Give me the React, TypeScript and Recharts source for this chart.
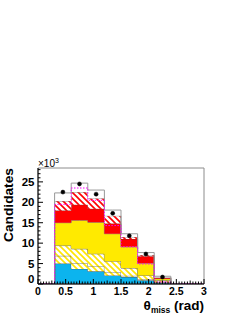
import {
  Area,
  ComposedChart,
  Line,
  ReferenceArea,
  XAxis,
  YAxis,
} from "recharts";

// bin left edges (rad) and centres
const binEdges = [0.3, 0.6, 0.9, 1.2, 1.5, 1.8, 2.1];
const binCentres = [0.45, 0.75, 1.05, 1.35, 1.65, 1.95, 2.25];
const histEnd = 2.4;

// stacked MC components, in units of 10^3 candidates (bottom to top)
const cyanBkg = [5.0, 3.7, 3.1, 2.1, 1.7, 0.9, 0.3];
const hatchYellowA = [1.9, 1.4, 1.2, 0.8, 0.3, 0.2, 0.2];
const hatchYellowB = [2.5, 3.5, 3.1, 2.7, 1.9, 1.0, 0.4];
const yellowBkg = [5.6, 7.0, 7.7, 6.7, 5.2, 3.0, 0.4];
const redBkg = [3.0, 3.8, 3.3, 2.5, 1.9, 1.7, 0.2];
const hatchRed = [2.3, 3.1, 2.6, 1.9, 0.5, 0.3, 0.1];
const whiteTop = [2.0, 2.2, 2.0, 1.4, 0.8, 0.6, 0.3];

// magenta dotted overlay and data points
const magentaShape = [19.5, 23.5, 20.5, 14.3, 9.1, 4.9, 0.5];
const dataPoints = [22.5, 24.5, 22.0, 17.3, 11.8, 7.35, 1.7];

// axis ticks
const xMajorTicks = [0, 0.5, 1, 1.5, 2, 2.5, 3];
const xTickLabels = ["0", "0.5", "1", "1.5", "2", "2.5", "3"];
const yMajorTicks = [0, 5, 10, 15, 20, 25];
const yTickLabels = ["0", "5", "10", "15", "20", "25"];

const xMinorTicks: number[] = [];
for (let i = 0; i <= 60; i++) xMinorTicks.push(Math.round(i * 5) / 100);
const yMinorTicks: number[] = [];
for (let i = 0; i <= 28; i++) yMinorTicks.push(i);

const layerKeys = ["cyan", "hyA", "hyB", "yel", "red", "hr", "wh"];
const layers = [cyanBkg, hatchYellowA, hatchYellowB, yellowBkg, redBkg, hatchRed, whiteTop];

const zeroRow = (x: number) => {
  const r: any = { x, mag: 0 };
  layerKeys.forEach((k) => (r[k] = 0));
  return r;
};

const rows: any[] = [zeroRow(0), zeroRow(binEdges[0])];
binEdges.forEach((e, i) => {
  const base: any = { mag: magentaShape[i] };
  layerKeys.forEach((k, j) => (base[k] = layers[j][i]));
  rows.push({ ...base, x: e });
  rows.push({ ...base, x: binCentres[i], pts: dataPoints[i] });
});
rows.push(zeroRow(histEnd));
rows.push(zeroRow(3));

const FONT = "'Liberation Sans', Arial, Helvetica, sans-serif";

// plot frame in pixels (axes positions)
const PLOT_BOTTOM = 284;
const PLOT_LEFT = 38;

const renderXTick = (props: any) => {
  const { x, payload } = props;
  const y = PLOT_BOTTOM;
  const v = payload.value;
  const mi = xMajorTicks.findIndex((t) => Math.abs(t - v) < 1e-6);
  const isHalf = Math.abs(v * 4 - Math.round(v * 4)) < 1e-6;
  const len = mi >= 0 ? 5 : isHalf ? 3.5 : 2.5;
  return (
    <g key={`xt-${v}`}>
      <line x1={x} x2={x} y1={y} y2={y - len} stroke="#000" />
      {mi >= 0 && (
        <text x={x} y={y + 11} textAnchor="middle" fontFamily={FONT} fontWeight="bold" fontSize={10.5}>
          {xTickLabels[mi]}
        </text>
      )}
    </g>
  );
};

const renderYTick = (props: any) => {
  const { y, payload } = props;
  const x = PLOT_LEFT;
  const v = payload.value;
  const mi = yMajorTicks.indexOf(v);
  const len = mi >= 0 ? 5 : 2.5;
  return (
    <g key={`yt-${v}`}>
      <line x1={x} x2={x + len} y1={y} y2={y} stroke="#000" />
      {mi >= 0 && (
        <text x={x - 3.5} y={y + (v === 0 ? -1.5 : 4)} textAnchor="end" fontFamily={FONT} fontWeight="bold" fontSize={11.5}>
          {yTickLabels[mi]}
        </text>
      )}
    </g>
  );
};

export default function App() {
  return (
    <div style={{ position: "absolute", left: 0, top: 0, width: 245, height: 317, background: "#fff" }}>
      <ComposedChart
        width={245}
        height={317}
        data={rows}
        margin={{ top: 168, right: 41, bottom: 3, left: 8 }}
      >
        <defs>
          <pattern id="hatchYellow" patternUnits="userSpaceOnUse" width="6" height="6">
            <rect width="6" height="6" fill="#fff" />
            <path d="M-1,-1 L7,7 M-1,5 L1,7 M5,-1 L7,1" stroke="#FFE600" strokeWidth="1.6" />
          </pattern>
          <pattern id="hatchRed" patternUnits="userSpaceOnUse" width="6" height="6">
            <rect width="6" height="6" fill="#fff" />
            <path d="M-1,-1 L7,7 M-1,5 L1,7 M5,-1 L7,1" stroke="#FF0000" strokeWidth="1.6" />
          </pattern>
        </defs>
        <XAxis
          type="number"
          dataKey="x"
          domain={[0, 3]}
          ticks={xMinorTicks}
          interval={0}
          height={30}
          tick={renderXTick}
          axisLine={{ stroke: "#000" }}
          tickLine={false}
        />
        <YAxis
          type="number"
          domain={[0, 28.4]}
          allowDataOverflow
          ticks={yMinorTicks}
          interval={0}
          width={30}
          tick={renderYTick}
          axisLine={{ stroke: "#000" }}
          tickLine={false}
        />
        <Area type="stepAfter" dataKey="cyan" stackId="mc" fill="#0CB4EE" fillOpacity={1} stroke="#555" strokeWidth={0.8} isAnimationActive={false} dot={false} activeDot={false} />
        <Area type="stepAfter" dataKey="hyA" stackId="mc" fill="url(#hatchYellow)" fillOpacity={1} stroke="#555" strokeWidth={0.8} isAnimationActive={false} dot={false} activeDot={false} />
        <Area type="stepAfter" dataKey="hyB" stackId="mc" fill="url(#hatchYellow)" fillOpacity={1} stroke="#555" strokeWidth={0.8} isAnimationActive={false} dot={false} activeDot={false} />
        <Area type="stepAfter" dataKey="yel" stackId="mc" fill="#FFEA00" fillOpacity={1} stroke="#777" strokeWidth={0.8} isAnimationActive={false} dot={false} activeDot={false} />
        <Area type="stepAfter" dataKey="red" stackId="mc" fill="#FF0000" fillOpacity={1} stroke="#8a2a2a" strokeWidth={0.8} isAnimationActive={false} dot={false} activeDot={false} />
        <Area type="stepAfter" dataKey="hr" stackId="mc" fill="url(#hatchRed)" fillOpacity={1} stroke="#888" strokeWidth={0.8} isAnimationActive={false} dot={false} activeDot={false} />
        <Area type="stepAfter" dataKey="wh" stackId="mc" fill="#fff" fillOpacity={1} stroke="#999" strokeWidth={1} isAnimationActive={false} dot={false} activeDot={false} />
        <Line type="stepAfter" dataKey="mag" stroke="#FF00FF" strokeWidth={1} strokeDasharray="1.5 1.5" dot={false} activeDot={false} isAnimationActive={false} />
        <Line dataKey="pts" stroke="none" dot={{ r: 2, fill: "#000", stroke: "#000", strokeWidth: 0.5 }} activeDot={false} isAnimationActive={false} />
        <ReferenceArea x1={0} x2={3} y1={0} y2={28.4} fill="none" stroke="#8c8c8c" strokeWidth={1} />
      </ComposedChart>
      <svg width={245} height={317} style={{ position: "absolute", left: 0, top: 0, pointerEvents: "none" }}>
        <text x={12.5} y={205} transform="rotate(-90 12.5 205)" textAnchor="middle" fontFamily={FONT} fontWeight="bold" fontSize={13.7}>
          Candidates
        </text>
        <text x={38} y={167} fontFamily={FONT} fontSize={10}>
          ×10<tspan dy={-4} fontSize={7}>3</tspan>
        </text>
        <text x={204} y={310} textAnchor="end" fontFamily={FONT} fontWeight="bold" fontSize={13.5}>
          θ<tspan fontSize={8.5} dy={3}>miss</tspan><tspan dy={-3}> (rad)</tspan>
        </text>
      </svg>
    </div>
  );
}
